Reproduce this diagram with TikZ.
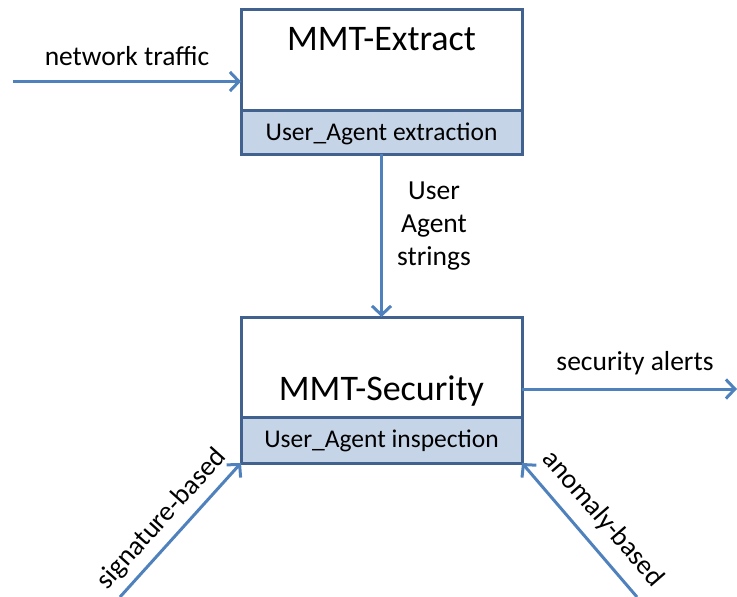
\documentclass[tikz,border=0pt]{standalone}
\usepackage{fontspec}
\setmainfont{Carlito}
\usetikzlibrary{arrows.meta}
\definecolor{boxedge}{HTML}{41628F}
\definecolor{bandfill}{HTML}{C6D4E7}
\definecolor{arrowblue}{HTML}{4F81BD}
\tikzset{
  boxbody/.style={draw=boxedge, line width=3pt, fill=white, inner sep=0pt, outer sep=0pt},
  boxband/.style={draw=boxedge, line width=3pt, fill=bandfill, inner sep=0pt, outer sep=0pt},
  bigtxt/.style={anchor=base, inner sep=0pt, font=\fontsize{36}{40}\selectfont},
  bandtxt/.style={anchor=base, inner sep=0pt, font=\fontsize{25.5}{28}\selectfont},
  lbl/.style={inner sep=0pt, font=\fontsize{27.5}{33}\selectfont},
  flow/.style={draw=arrowblue, line width=3pt, -{Straight Barb[length=9pt,width=19pt,line width=3pt]}},
}
\begin{document}
\begin{tikzpicture}[x=1pt,y=-1pt]
\useasboundingbox (0,0) rectangle (737,597);
% top box
\node[boxbody, minimum width=281pt, minimum height=145pt] (ext) at (381.5,81.5) {};
\node[boxband, minimum width=281pt, minimum height=44pt] (extb) at (381.5,132) {};
\node[bigtxt] (extt) at (381.5,50) {MMT-Extract};
\node[bandtxt] (extbt) at (381.5,140) {User\_Agent extraction};
% bottom box
\node[boxbody, minimum width=281pt, minimum height=146pt] (sec) at (381.5,390) {};
\node[boxband, minimum width=281pt, minimum height=46pt] (secb) at (381.5,440) {};
\node[bigtxt] (sect) at (381.5,400) {MMT-Security};
\node[bandtxt] (secbt) at (381.5,447) {User\_Agent inspection};
% free ends
\coordinate (netin) at (13,81.5);
\coordinate (alout) at (737,389);
\coordinate (sigin) at (120,597);
\coordinate (anoin) at (637,597);
% connectors
\draw[flow] (netin) -- (netin -| ext.west);
\draw[flow] (extb.south) -- (sec.north);
\draw[flow] (sec.east |- alout) -- (alout);
\draw[flow] (sigin) -- (secb.south west);
\draw[flow] (anoin) -- (secb.south east);
% labels
\node[lbl, anchor=base] (lnet) at (127,65) {network traffic};
\node[lbl, align=center] (lua) at (434,226) {User\\Agent\\strings};
\node[lbl, anchor=base] (lal) at (635,370) {security alerts};
\node[lbl, rotate=48] (lsig) at (162,519) {signature-based};
\node[lbl, rotate=-49] (lano) at (603,519) {anomaly-based};
\end{tikzpicture}
\end{document}
